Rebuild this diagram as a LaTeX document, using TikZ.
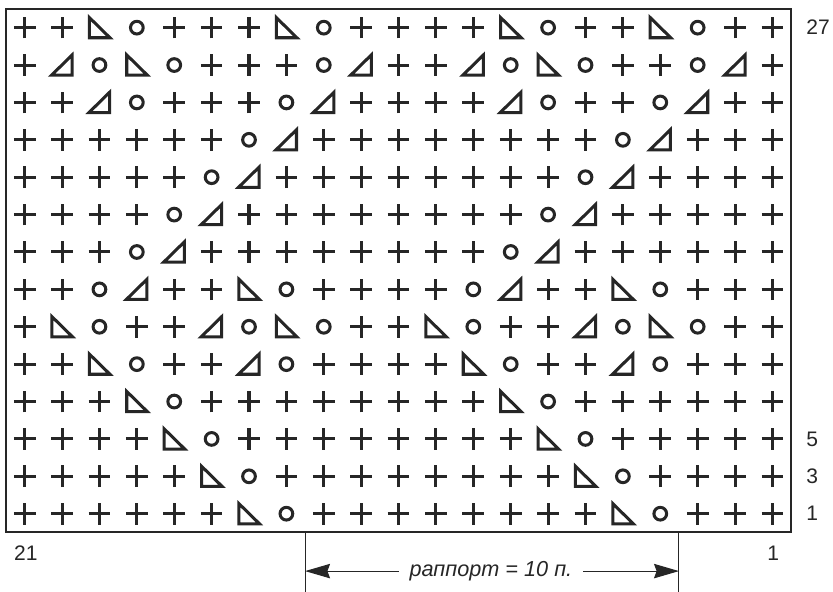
\documentclass[tikz,border=0pt]{standalone}
\usepackage{fontspec}
\setmainfont{Liberation Sans}
\usetikzlibrary{arrows.meta,positioning}
\tikzset{
  stp/.pic={\draw[sym] (-0.29,0) -- (0.29,0) (0,-0.29) -- (0,0.29);},
  sto/.pic={\draw[sym] (0,0) circle (0.17);},
  str/.pic={\draw[sym] (-0.27,0.27) -- (-0.27,-0.27) -- (0.28,-0.27) -- cycle;},
  stl/.pic={\draw[sym] (0.27,0.27) -- (0.27,-0.27) -- (-0.28,-0.27) -- cycle;}}

\begin{document}
\begin{tikzpicture}[every node/.style={font=\fontsize{16}{18}\selectfont, text=black!85},
  sym/.style={line width=2.3pt, draw=black!85, line join=miter},
  frame/.style={line width=1.6pt, draw=black!85},
  lab/.style={anchor=west, inner sep=0pt}, guide/.style={line width=0.8pt, draw=black!85},
  arr/.style={-{Stealth[length=19pt,width=11pt,inset=2pt]}, line width=0.8pt, draw=black!85}]
\useasboundingbox (-0.16,-1.578) rectangle (22.12,14.24);
\draw[frame] (0,0) rectangle (21,14);
% rows 27 .. 1, stitches 21 .. 1
\foreach \row [count=\r] in {
  {p,p,r,o,p,p,p,r,o,p,p,p,p,r,o,p,p,r,o,p,p},
  {p,l,o,r,o,p,p,p,o,l,p,p,l,o,r,o,p,p,o,l,p},
  {p,p,l,o,p,p,p,o,l,p,p,p,p,l,o,p,p,o,l,p,p},
  {p,p,p,p,p,p,o,l,p,p,p,p,p,p,p,p,o,l,p,p,p},
  {p,p,p,p,p,o,l,p,p,p,p,p,p,p,p,o,l,p,p,p,p},
  {p,p,p,p,o,l,p,p,p,p,p,p,p,p,o,l,p,p,p,p,p},
  {p,p,p,o,l,p,p,p,p,p,p,p,p,o,l,p,p,p,p,p,p},
  {p,p,o,l,p,p,r,o,p,p,p,p,o,l,p,p,r,o,p,p,p},
  {p,r,o,p,p,l,o,r,o,p,p,r,o,p,p,l,o,r,o,p,p},
  {p,p,r,o,p,p,l,o,p,p,p,p,r,o,p,p,l,o,p,p,p},
  {p,p,p,r,o,p,p,p,p,p,p,p,p,r,o,p,p,p,p,p,p},
  {p,p,p,p,r,o,p,p,p,p,p,p,p,p,r,o,p,p,p,p,p},
  {p,p,p,p,p,r,o,p,p,p,p,p,p,p,p,r,o,p,p,p,p},
  {p,p,p,p,p,p,r,o,p,p,p,p,p,p,p,p,r,o,p,p,p}}
  \foreach \s [count=\c] in \row
    \pic at (\c-0.5,14.5-\r) {st\s};
\node[lab] (r27) at (21.4,13.5) {27};
\node[lab] (r5) at (21.4,2.5) {5};
\node[lab] (r3) at (21.4,1.5) {3};
\node[lab] (r1) at (21.4,0.5) {1};
\node (c21) at (0.53,-0.55) {21};
\node (c1) at (20.52,-0.55) {1};
\coordinate (rlt) at (8,0); \coordinate (rlb) at (8,-1.6);
\coordinate (rrt) at (18,0); \coordinate (rrb) at (18,-1.6);
\draw[guide] (rlt) -- (rlb);
\draw[guide] (rrt) -- (rrb);
\node[font=\fontsize{16.5}{19}\selectfont\itshape, inner sep=8pt] (rapport) at (12.97,-1.035) {раппорт = 10 п.};
\coordinate (al) at (8,-1.035); \coordinate (ar) at (18,-1.035);
\draw[arr] (rapport) -- (al);
\draw[arr] (rapport) -- (ar);
\end{tikzpicture}
\end{document}
